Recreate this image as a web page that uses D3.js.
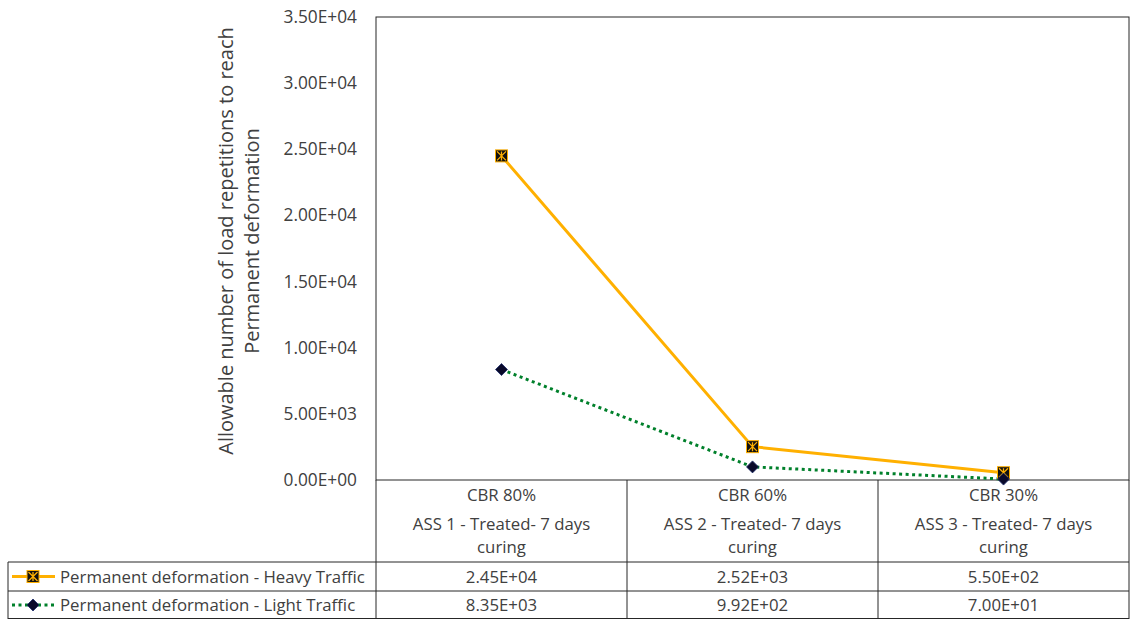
<!DOCTYPE html>
<html>
<head>
<meta charset="utf-8">
<script src="https://cdn.jsdelivr.net/npm/d3@7/dist/d3.min.js"></script>
<style>
  html, body { margin: 0; padding: 0; background: #fff; }
  svg { display: block; }
  text { font-family: "Open Sans", "Noto Sans", sans-serif; fill: #404040; }
</style>
</head>
<body>
<svg id="chart" width="1130" height="619"></svg>
<script>
// Categories (two text lines per column header)
const categoryTop = ["CBR 80%", "CBR 60%", "CBR 30%"];
const categoryLines = [
  ["ASS 1 - Treated- 7 days", "curing"],
  ["ASS 2 - Treated- 7 days", "curing"],
  ["ASS 3 - Treated- 7 days", "curing"]
];
// Series values
const heavyTraffic = [24500, 2520, 550];
const lightTraffic = [8350, 992, 70];
const seriesNames = ["Permanent deformation - Heavy Traffic", "Permanent deformation - Light Traffic"];
// Y axis ticks
const yTicks = [0, 5000, 10000, 15000, 20000, 25000, 30000, 35000];
const yTitle = ["Allowable number of load repetitions to reach", "Permanent deformation"];

const svg = d3.select("#chart");
const plot = { left: 376, right: 1129, top: 17, bottom: 480 };
const table = { left: 8, headerBottom: 562, row1Bottom: 591, row2Bottom: 619 };
const fs = "16.8px";

const x = d3.scaleBand().domain(d3.range(categoryTop.length)).range([plot.left, plot.right]).padding(0);
const y = d3.scaleLinear().domain([0, 35000]).range([plot.bottom, plot.top]);

const fmt = v => v.toExponential(2).replace(/e([+-])(\d)$/, "E$10$2").replace(/e([+-])(\d\d)$/, "E$1$2");

// Plot frame
svg.append("rect")
  .attr("x", plot.left).attr("y", plot.top)
  .attr("width", plot.right - plot.left).attr("height", plot.bottom - plot.top)
  .attr("fill", "none").attr("stroke", "#262626").attr("stroke-width", 1);

// Y axis labels
const yAxis = d3.axisLeft(y).tickValues(yTicks).tickFormat(fmt).tickSize(0).tickPadding(19);
const yg = svg.append("g").attr("transform", `translate(${plot.left},0)`).call(yAxis);
yg.select(".domain").remove();
yg.selectAll("text").style("font-size", "17.3px").attr("fill", "#404040")
  .style("font-family", "'Open Sans', 'Noto Sans', sans-serif");

// Y axis title
const yt = svg.append("text")
  .attr("transform", `translate(238, 241) rotate(-90)`)
  .attr("text-anchor", "middle")
  .style("font-size", "20px");
yt.selectAll("tspan").data(yTitle).join("tspan")
  .attr("x", 0).attr("dy", (d, i) => i === 0 ? "-0.25em" : "1.3em")
  .text(d => d);

// Data table grid
const gridColor = "#262626";
const gl = svg.append("g").attr("stroke", gridColor).attr("stroke-width", 1).attr("fill", "none");
x.domain().forEach(i => {
  gl.append("line").attr("x1", x(i)).attr("x2", x(i)).attr("y1", plot.bottom).attr("y2", table.row2Bottom);
});
gl.append("line").attr("x1", plot.right).attr("x2", plot.right).attr("y1", plot.bottom).attr("y2", table.row2Bottom);
gl.append("line").attr("x1", table.left).attr("x2", table.left).attr("y1", table.headerBottom).attr("y2", table.row2Bottom);
gl.append("line").attr("x1", table.left).attr("x2", plot.right).attr("y1", table.headerBottom).attr("y2", table.headerBottom);
gl.append("line").attr("x1", table.left).attr("x2", plot.right).attr("y1", table.row1Bottom).attr("y2", table.row1Bottom);
gl.append("line").attr("x1", table.left).attr("x2", plot.right).attr("y1", table.row2Bottom - 0.5).attr("y2", table.row2Bottom - 0.5);

// Category headers
const cx = i => x(i) + x.bandwidth() / 2;
categoryTop.forEach((t, i) => {
  svg.append("text").attr("x", cx(i)).attr("y", 501).attr("text-anchor", "middle")
    .style("font-size", fs).text(t);
  categoryLines[i].forEach((l, j) => {
    svg.append("text").attr("x", cx(i)).attr("y", 530 + j * 23).attr("text-anchor", "middle")
      .style("font-size", fs).text(l);
  });
});

// Table values
const rows = [heavyTraffic, lightTraffic];
const rowMid = [(table.headerBottom + table.row1Bottom) / 2, (table.row1Bottom + table.row2Bottom) / 2];
rows.forEach((vals, r) => {
  vals.forEach((v, i) => {
    svg.append("text").attr("x", cx(i)).attr("y", rowMid[r] + 6).attr("text-anchor", "middle")
      .style("font-size", fs).text(fmt(v));
  });
});

// Series styles
const heavyColor = "#FFB000";
const lightColor = "#00802B";

function heavyMarker(g, px, py) {
  const s = 12;
  g.append("rect").attr("x", px - s / 2).attr("y", py - s / 2).attr("width", s).attr("height", s)
    .attr("fill", "#111").attr("stroke", heavyColor).attr("stroke-width", 1);
  const a = s / 2 - 1.5;
  g.append("path")
    .attr("d", `M${px - a},${py - a}L${px + a},${py + a}M${px + a},${py - a}L${px - a},${py + a}M${px},${py - a}L${px},${py + a}`)
    .attr("stroke", heavyColor).attr("stroke-width", 1.3);
}
function lightMarker(g, px, py) {
  const r = 6;
  g.append("path")
    .attr("d", `M${px},${py - r}L${px + r},${py}L${px},${py + r}L${px - r},${py}Z`)
    .attr("fill", "#0a0a2a").attr("stroke", "#1a2a6a").attr("stroke-width", 0.8);
}

const line = d3.line().x((d, i) => cx(i)).y(d => y(d));

// Light traffic series (dotted green)
svg.append("path").datum(lightTraffic).attr("d", line)
  .attr("fill", "none").attr("stroke", lightColor).attr("stroke-width", 3)
  .attr("stroke-dasharray", "3,3.5");
// Heavy traffic series (solid orange)
svg.append("path").datum(heavyTraffic).attr("d", line)
  .attr("fill", "none").attr("stroke", heavyColor).attr("stroke-width", 3);

const mg = svg.append("g");
heavyTraffic.forEach((v, i) => heavyMarker(mg, cx(i), y(v)));
lightTraffic.forEach((v, i) => lightMarker(mg, cx(i), y(v)));

// Legend keys inside the table
const keyX0 = 12, keyX1 = 55, keyMid = 33;
svg.append("line").attr("x1", keyX0).attr("x2", keyX1).attr("y1", rowMid[0]).attr("y2", rowMid[0])
  .attr("stroke", heavyColor).attr("stroke-width", 3);
heavyMarker(svg.append("g"), keyMid, rowMid[0]);
svg.append("line").attr("x1", keyX0).attr("x2", keyX1).attr("y1", rowMid[1]).attr("y2", rowMid[1])
  .attr("stroke", lightColor).attr("stroke-width", 3).attr("stroke-dasharray", "3,3.5");
lightMarker(svg.append("g"), keyMid, rowMid[1]);

seriesNames.forEach((n, r) => {
  svg.append("text").attr("x", 60).attr("y", rowMid[r] + 6)
    .style("font-size", fs).text(n);
});
</script>
</body>
</html>
